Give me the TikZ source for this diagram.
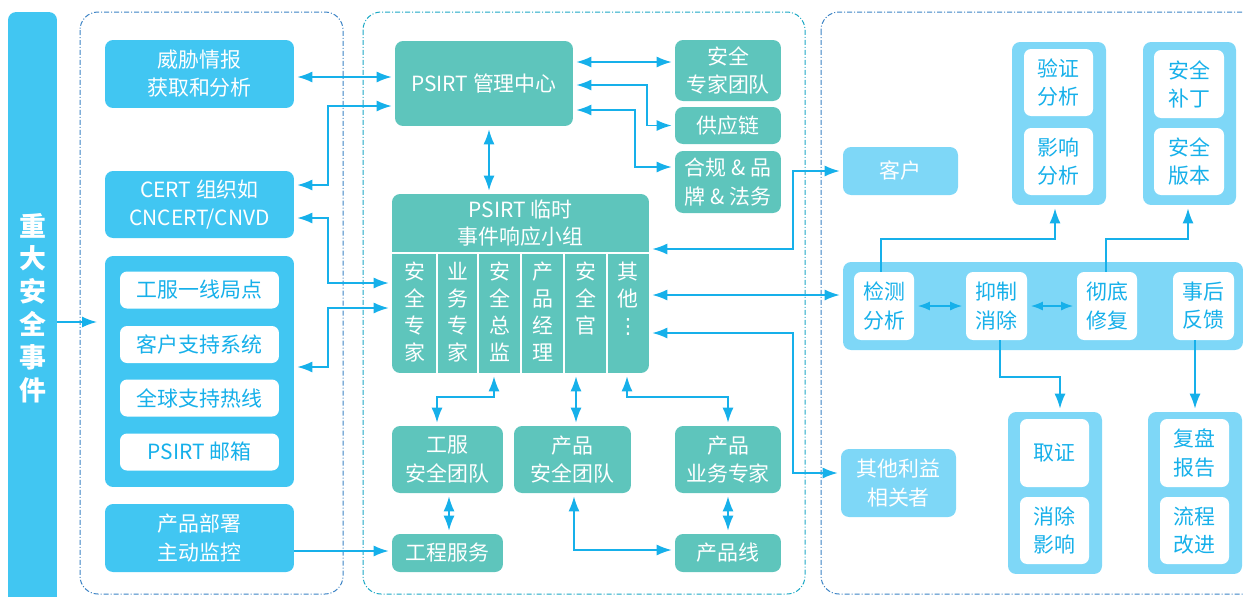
\documentclass[tikz,border=0pt]{standalone}
\usepackage{fontspec}
\setmainfont{Noto Sans CJK SC}
\newfontfamily\dotsfont{DejaVu Sans}
\usetikzlibrary{arrows.meta}
\definecolor{skyblue}{HTML}{41C6F2}
\definecolor{tealgreen}{HTML}{5EC5BC}
\definecolor{paleblue}{HTML}{7ED7F7}
\definecolor{arrowblue}{HTML}{16B0EA}
\definecolor{zoneblue}{HTML}{3B82C4}
\definecolor{zoneteal}{HTML}{1BA8C5}
\newcommand{\boxfont}{\fontsize{11.9pt}{16pt}\selectfont}
\newcommand{\barfont}{\fontsize{15.3pt}{18.7pt}\selectfont\bfseries}
\newcommand{\colfont}{\fontsize{11.9pt}{15.3pt}\selectfont}

\begin{document}
\begin{tikzpicture}[x=0.02cm, y=-0.02cm,
  box/.style={rounded corners=0.16cm, inner sep=0pt, align=center, text=white, font=\boxfont},
  leftbox/.style={box, fill=skyblue},
  midbox/.style={box, fill=tealgreen},
  rightbox/.style={box, fill=paleblue},
  whitebox/.style={box, fill=white, text=arrowblue, rounded corners=0.14cm},
  coltext/.style={anchor=north, inner sep=0pt, align=center, text=white, font=\colfont},
  zone/.style={rounded corners=0.36cm, line width=0.02cm, dash pattern=on 0.1cm off 0.04cm on 0.02cm off 0.04cm},
  link/.style={draw=arrowblue, line width=0.03cm, arrows={-Latex[length=0.3cm,width=0.22cm]}, shorten >=0.06cm},
  both/.style={link, arrows={Latex[length=0.3cm,width=0.22cm]-Latex[length=0.3cm,width=0.22cm]}, shorten <=0.06cm},
  small/.style={both, arrows={Latex[length=0.24cm,width=0.18cm]-Latex[length=0.24cm,width=0.18cm]}, shorten <=0.07cm, shorten >=0.07cm}]
\useasboundingbox (0,0) rectangle (1244,596);

% dashed zones
\draw[zone, draw=zoneblue] (80,12) rectangle (343,594);
\draw[zone, draw=zoneteal] (363,12) rectangle (805,594);
\draw[zone, draw=zoneblue] (821,12) rectangle (1270,594);

% event bar
\node[box, fill=skyblue, minimum width=0.98cm, minimum height=11.84cm, font=\barfont] (bar) at (32.5,308) {重\\大\\安\\全\\事\\件};
\coordinate (inlet) at (100,322);

% sources
\node[leftbox, minimum width=3.78cm, minimum height=1.36cm] (threat) at (199.5,74) {威胁情报\\获取和分析};
\node[leftbox, minimum width=3.78cm, minimum height=1.34cm] (cert) at (199.5,204.5) {CERT 组织如\\CNCERT/CNVD};
\node[leftbox, minimum width=3.78cm, minimum height=4.62cm] (channels) at (199.5,371.5) {};
\node[whitebox, minimum width=3.18cm, minimum height=0.74cm] (site) at (199.5,290) {工服一线局点};
\node[whitebox, minimum width=3.18cm, minimum height=0.74cm] (support) at (199.5,344.5) {客户支持系统};
\node[whitebox, minimum width=3.18cm, minimum height=0.74cm] (hotline) at (199.5,398) {全球支持热线};
\node[whitebox, minimum width=3.18cm, minimum height=0.74cm] (mailbox) at (199.5,452) {PSIRT 邮箱};
\node[leftbox, minimum width=3.78cm, minimum height=1.36cm] (deploy) at (199.5,538) {产品部署\\主动监控};

% PSIRT
\node[midbox, minimum width=3.56cm, minimum height=1.70cm] (mgmt) at (484,83.5) {PSIRT 管理中心};
\node[midbox, minimum width=2.12cm, minimum height=1.22cm] (expert) at (728,70.5) {安全\\专家团队};
\node[midbox, minimum width=2.12cm, minimum height=0.74cm] (supply) at (728,125.5) {供应链};
\node[midbox, minimum width=2.12cm, minimum height=1.24cm] (legal) at (728,182) {合规 \& 品\\牌 \& 法务};

\node[midbox, minimum width=5.14cm, minimum height=3.58cm] (team) at (520.5,283.5) {};
\node[coltext, anchor=center] (title) at (520.5,223) {PSIRT 临时\\事件响应小组};
\draw[white, line width=0.03cm] (392,253) -- (649,253);
\draw[white, line width=0.03cm] (437,253) -- (437,373);
\draw[white, line width=0.03cm] (478,253) -- (478,373);
\draw[white, line width=0.03cm] (521,253) -- (521,373);
\draw[white, line width=0.03cm] (564,253) -- (564,373);
\draw[white, line width=0.03cm] (607,253) -- (607,373);
\node[coltext] (c1) at (414.5,262) {安\\全\\专\\家};
\node[coltext] (c2) at (457.5,262) {业\\务\\专\\家};
\node[coltext] (c3) at (499.5,262) {安\\全\\总\\监};
\node[coltext] (c4) at (542.5,262) {产\\品\\经\\理};
\node[coltext] (c5) at (585.5,262) {安\\全\\官};
\node[coltext] (c6) at (628,262) {其\\他\\{\dotsfont ⋮}};

\node[midbox, minimum width=2.22cm, minimum height=1.34cm] (engteam) at (447.5,459.5) {工服\\安全团队};
\node[midbox, minimum width=2.34cm, minimum height=1.34cm] (prodteam) at (572.5,459.5) {产品\\安全团队};
\node[midbox, minimum width=2.12cm, minimum height=1.34cm] (bizexp) at (728,459.5) {产品\\业务专家};
\node[midbox, minimum width=2.22cm, minimum height=0.76cm] (engsvc) at (447.5,553) {工程服务};
\node[midbox, minimum width=2.12cm, minimum height=0.76cm] (prodline) at (728,553) {产品线};

% handling
\node[rightbox, minimum width=2.30cm, minimum height=0.96cm] (customer) at (900.5,171) {客户};
\node[rightbox, minimum width=2.30cm, minimum height=1.36cm] (other) at (898.5,483) {其他利益\\相关者};

\node[rightbox, minimum width=1.88cm, minimum height=3.26cm] (verify) at (1059,123.5) {};
\node[whitebox, minimum width=1.38cm, minimum height=1.34cm] (valid) at (1058.5,82.5) {验证\\分析};
\node[whitebox, minimum width=1.38cm, minimum height=1.34cm] (impact) at (1058.5,161.5) {影响\\分析};
\node[rightbox, minimum width=1.86cm, minimum height=3.26cm] (patch) at (1189.5,123.5) {};
\node[whitebox, minimum width=1.40cm, minimum height=1.36cm] (fixpatch) at (1189,84) {安全\\补丁};
\node[whitebox, minimum width=1.40cm, minimum height=1.34cm] (release) at (1189,161.5) {安全\\版本};

\node[rightbox, minimum width=8.0cm, minimum height=1.76cm] (process) at (1043,306) {};
\node[whitebox, minimum width=1.20cm, minimum height=1.36cm] (detect) at (884,306) {检测\\分析};
\node[whitebox, minimum width=1.22cm, minimum height=1.36cm] (suppress) at (996.5,306) {抑制\\消除};
\node[whitebox, minimum width=1.20cm, minimum height=1.36cm] (fix) at (1107,306) {彻底\\修复};
\node[whitebox, minimum width=1.22cm, minimum height=1.36cm] (post) at (1203.5,306) {事后\\反馈};

\node[rightbox, minimum width=1.88cm, minimum height=3.24cm] (forensic) at (1055,493) {};
\node[whitebox, minimum width=1.38cm, minimum height=1.36cm] (evidence) at (1054.5,453) {取证};
\node[whitebox, minimum width=1.38cm, minimum height=1.34cm] (remove) at (1054.5,530.5) {消除\\影响};
\node[rightbox, minimum width=1.88cm, minimum height=3.24cm] (review) at (1195,493) {};
\node[whitebox, minimum width=1.38cm, minimum height=1.36cm] (report) at (1194.5,453) {复盘\\报告};
\node[whitebox, minimum width=1.38cm, minimum height=1.34cm] (improve) at (1194.5,530.5) {流程\\改进};

% connectors
\draw[link] (bar.east |- inlet) -- (inlet);
\draw[both] (threat.east |- 0,77) -- (mgmt.west |- 0,77);
\draw[both] (cert.east |- 0,185) -- (328,185) -- (328,106) -- (mgmt.west |- 0,106);
\draw[both] (cert.east |- 0,218) -- (328,218) -- (328,283) -- (team.west |- 0,283);
\draw[both] (channels.east |- 0,367) -- (328,367) -- (328,308) -- (team.west |- 0,308);
\draw[link] (deploy.east |- 0,551) -- (engsvc.west |- 0,551);
\draw[both] (mgmt.east |- 0,62) -- (expert.west |- 0,62);
\draw[both] (mgmt.east |- 0,85) -- (647,85) |- (supply.west);
\draw[both] (mgmt.east |- 0,110) -- (635,110) |- (legal.west |- 0,167);
\draw[both] (mgmt.south -| 489,0) -- (team.north -| 489,0);
\draw[both] (team.east |- 0,249) -- (793,249) |- (customer.west);
\draw[both] (team.east |- 0,295) -- (process.west |- 0,295);
\draw[both] (team.east |- 0,333) -- (793,333) |- (other.west |- 0,473);
\draw[both] (team.south -| 494,0) -- (494,397) -| (engteam.north -| 437,0);
\draw[both] (team.south -| 576,0) -- (prodteam.north -| 576,0);
\draw[both] (team.south -| 627,0) -- (627,397) -| (bizexp.north);
\draw[both] (engteam.south -| 449,0) -- (engsvc.north -| 449,0);
\draw[both] (prodteam.south -| 574,0) |- (prodline.west |- 0,550);
\draw[both] (bizexp.south) -- (prodline.north);
\draw[small] (detect) -- (suppress);
\draw[small] (suppress) -- (fix);
\draw[link] (detect.north -| 881,0) -- (881,239) -| (verify.south -| 1055,0);
\draw[link] (fix.north -| 1106,0) -- (1106,239) -| (patch.south -| 1188,0);
\draw[link] (suppress.south -| 1000,0) -- (1000,377) -| (forensic.north -| 1060,0);
\draw[link] (post.south -| 1195,0) -- (review.north -| 1195,0);
\end{tikzpicture}
\end{document}
